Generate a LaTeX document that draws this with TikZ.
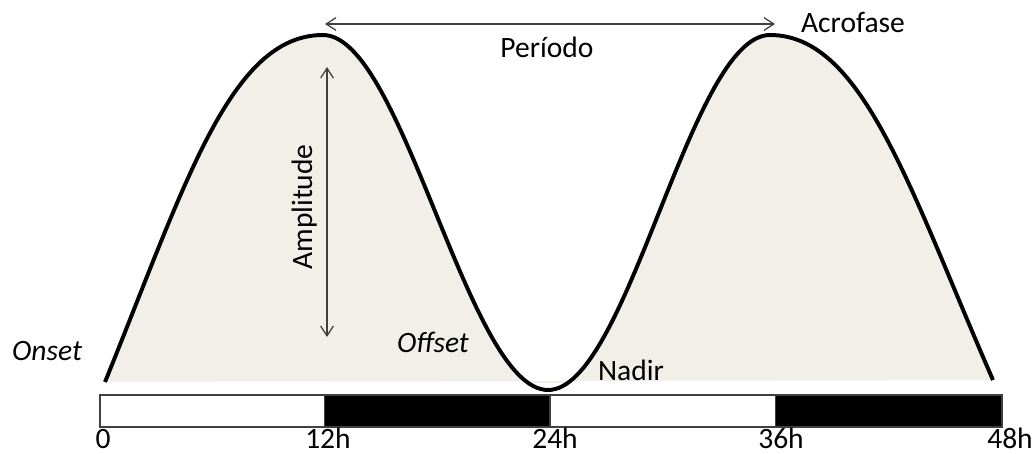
\documentclass[tikz,border=0pt]{standalone}
\usepackage{fontspec}
\setmainfont{Carlito}
\usepackage{xcolor}
\usetikzlibrary{arrows.meta}
\definecolor{mybeige}{RGB}{242,239,232}
\definecolor{mygray}{RGB}{64,64,64}

\begin{document}
\begin{tikzpicture}[x=0.025cm,y=-0.025cm,
  lbl/.style={font=\fontsize{21}{25}\selectfont, inner sep=0pt, anchor=base},
  dim/.style={{Straight Barb[length=7pt,width=9pt]}-{Straight Barb[length=7pt,width=9pt]}, color=mygray, line width=0.9pt}]
\useasboundingbox (0,0) rectangle (1035,454);

% points of the curve
\coordinate (on) at (105,382);
\coordinate (pk1) at (323,35);
\coordinate (nd) at (548,390);
\coordinate (pk2) at (770,35);
\coordinate (off) at (993,380);

\begin{scope}
\clip (0,0) rectangle (1035,382);
\fill[mybeige] (on) .. controls (185,185) and (230,35) .. (pk1)
  .. controls (403,35) and (468,390) .. (nd)
  .. controls (628,390) and (690,35) .. (pk2)
  .. controls (863,35) and (910,190) .. (off) -- cycle;
\end{scope}
\draw[line width=2.8pt] (on) .. controls (185,185) and (230,35) .. (pk1)
  .. controls (403,35) and (468,390) .. (nd)
  .. controls (628,390) and (690,35) .. (pk2)
  .. controls (863,35) and (910,190) .. (off);

% light / dark bar
\draw[mygray, line width=1pt, fill=white] (100,395) rectangle (325,427);
\fill[black] (325,395) rectangle (550,427);
\draw[mygray, line width=1pt, fill=white] (550,395) rectangle (776,427);
\fill[black] (776,395) rectangle (1002,427);
\draw[mygray, line width=1pt] (100,395) rectangle (1002,427);

\node[lbl] (t0) at (103,448) {0};
\node[lbl] (t12) at (328,448) {12h};
\node[lbl] (t24) at (555,448) {24h};
\node[lbl] (t36) at (781,448) {36h};
\node[lbl] (t48) at (1010,448) {48h};

% arrows
\coordinate (per1) at (325,24);
\coordinate (per2) at (775,24);
\draw[dim] (per1) -- (per2);
\coordinate (amp1) at (327,67);
\coordinate (amp2) at (327,337);
\draw[dim] (amp1) -- (amp2);

\node[lbl] (periodo) at (547,57) {Período};
\node[lbl] (acro) at (853,32) {Acrofase};
\node[lbl, rotate=90] (ampl) at (312,207) {Amplitude};
\node[lbl, font=\fontsize{21}{25}\selectfont\itshape] (onset) at (47,360) {Onset};
\node[lbl, font=\fontsize{21}{25}\selectfont\itshape] (offset) at (433,352) {Offset};
\node[lbl] (nadir) at (631,380) {Nadir};
\end{tikzpicture}
\end{document}
